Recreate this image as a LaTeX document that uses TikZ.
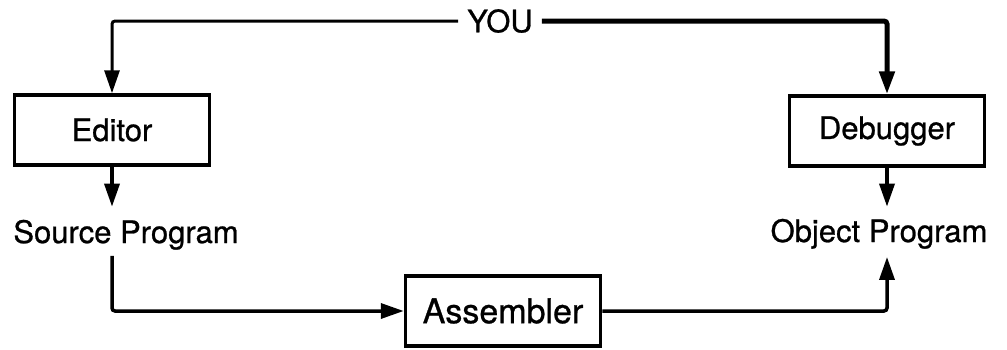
\documentclass[tikz,border=0pt]{standalone}
\usepackage{fontspec}
\setmainfont[FakeBold=0.8]{TeX Gyre Heros}
\usepackage{tikz}
\usetikzlibrary{arrows.meta,positioning}

\tikzset{
  box/.style={draw, line width=3.5pt, minimum width=195pt, minimum height=70pt, inner sep=0pt, font=\fontsize{31}{36}\selectfont},
  lbl/.style={inner sep=0pt, font=\fontsize{31}{36}\selectfont},
  arr/.style={line width=3.5pt, -{Triangle[length=23pt,width=15pt]}}
}

\begin{document}
\begin{tikzpicture}[x=1pt,y=-1pt]
\useasboundingbox (0,0) rectangle (1007,349);

\node[lbl, inner sep=9pt] (you) at (500,21) {YOU};

\node[box] (ed)  at (112,130) {Editor};
\node[box] (dbg) at (887,131) {Debugger};
\node[box, font=\fontsize{34}{40}\selectfont] (asm) at (503,311) {Assembler};

\node[lbl, anchor=base] (src) at (126,243) {Source Program};
\node[lbl, anchor=base] (obj) at (879,242) {Object Program};

%%%%%%%%%%%%%%%
\draw[arr, line width=3pt, rounded corners=3pt] (you.west) -| (ed.north);
\draw[arr, line width=5pt, rounded corners=3pt] (you.east) -| (dbg.north);

\draw[arr, shorten >=13pt] (ed.south) -- (ed.south |- src.north);
\draw[arr, shorten >=12pt] (dbg.south) -- (dbg.south |- obj.north);

%%%%%%%%%%%%%%%
\draw[arr, shorten <=6pt, rounded corners=3pt] (ed.south |- src.south) |- (asm.west);
\draw[arr, shorten >=8pt, rounded corners=3pt] (asm.east) -| (dbg.south |- obj.south);

\end{tikzpicture}
\end{document}
